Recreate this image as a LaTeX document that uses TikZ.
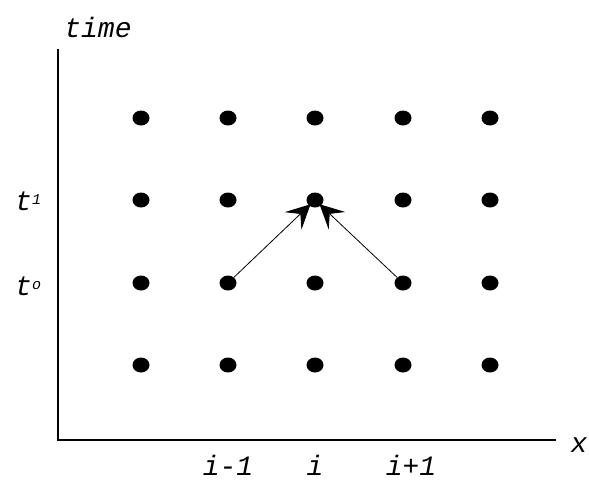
\documentclass[tikz,border=0pt]{standalone}
\usepackage{fontspec}
\setmonofont{Liberation Mono}
\usetikzlibrary{arrows.meta,shapes.geometric}
\tikzset{
  lbl/.style={font=\fontsize{28}{30}\selectfont\ttfamily\itshape, inner sep=0pt},
  dot/.style={ellipse, fill=black, minimum width=17pt, minimum height=15pt, inner sep=0pt},
  axis/.style={line width=1.5pt},
  arr/.style={line width=0.8pt, -{Stealth[length=24pt,width=24pt,inset=10pt]}, shorten >=-2pt}
}
\begin{document}
\begin{tikzpicture}[x=1pt,y=-1pt]
\useasboundingbox (0,0) rectangle (589,493);
\coordinate (o) at (58,440);
\coordinate (ytop) at (58,49);
\coordinate (xend) at (556,440);
\draw[axis] (ytop) -- (o) -- (xend);
\node[lbl] (time) at (98,27) {time};
\node[lbl] (xl) at (579,445) {x};
\node[lbl, anchor=west] (t1) at (15,201) {t\raisebox{6pt}{\fontsize{15}{15}\selectfont 1}};
\node[lbl, anchor=west] (t0) at (15,286) {t\raisebox{6pt}{\fontsize{15}{15}\selectfont o}};
\foreach \c/\x in {1/141,2/228,3/315,4/403,5/490}{
  \foreach \r/\y in {1/118,2/200,3/283,4/365}{
    \node[dot] (d\c\r) at (\x,\y) {};
  }
}
\draw[arr] (d23) -- (d32);
\draw[arr] (d43) -- (d32);
\node[lbl] (im) at (228,465) {i-1};
\node[lbl] (ii) at (315,465) {i};
\node[lbl] (ip) at (411,465) {i+1};
\end{tikzpicture}
\end{document}
